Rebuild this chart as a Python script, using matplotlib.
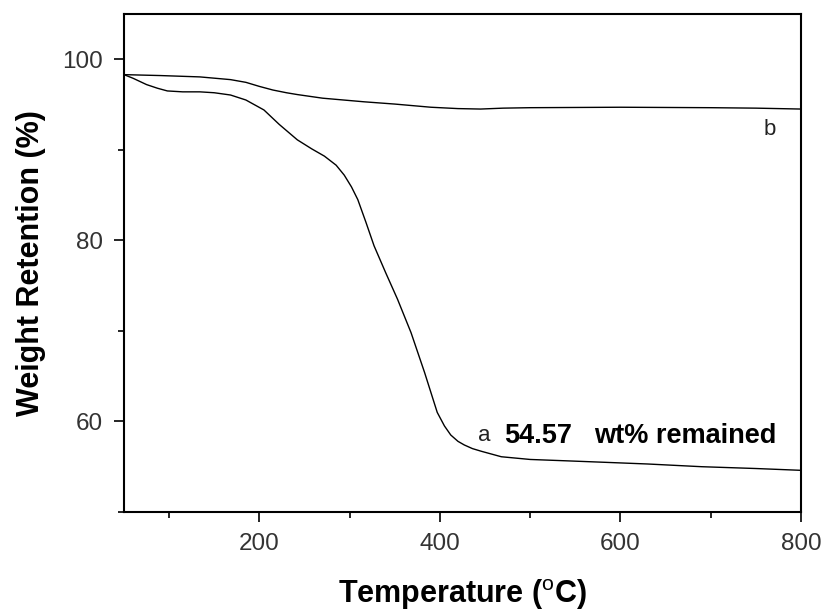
import matplotlib
matplotlib.use("Agg")
import matplotlib.pyplot as plt
from matplotlib.ticker import MultipleLocator

plt.rcParams["font.family"] = ["Liberation Sans", "DejaVu Sans"]
plt.rcParams["mathtext.fontset"] = "custom"
plt.rcParams["mathtext.rm"] = "Liberation Sans"
plt.rcParams["mathtext.bf"] = "Liberation Sans:bold"

# TGA curves (temperature in degC, weight retention in %)
temp_a = [50, 60, 75, 87, 98, 115, 134, 150, 168, 185, 205, 222, 242, 258,
          272, 285, 294, 302, 309, 318, 327, 340, 353, 368, 383, 397, 405, 412,
          420, 427, 436, 446, 468, 500, 540, 579, 630, 690, 750, 800]
weight_a = [98.3, 97.9, 97.2, 96.8, 96.5, 96.4, 96.4, 96.3, 96.05, 95.5, 94.4,
            92.8, 91.1, 90.1, 89.3, 88.3, 87.2, 85.9, 84.5, 82.0, 79.4, 76.4,
            73.5, 69.8, 65.4, 61.0, 59.5, 58.5, 57.8, 57.4, 57.0, 56.7, 56.1,
            55.8, 55.65, 55.5, 55.3, 55.0, 54.8, 54.6]

temp_b = [50, 90, 134, 168, 185, 200, 215, 230, 242, 270, 316, 350, 390, 420,
          445, 470, 500, 600, 700, 750, 800]
weight_b = [98.3, 98.2, 98.05, 97.75, 97.45, 97.0, 96.6, 96.3, 96.1, 95.7, 95.3,
            95.05, 94.7, 94.55, 94.5, 94.6, 94.65, 94.7, 94.65, 94.6, 94.5]

fig = plt.figure(figsize=(8.29, 6.13), dpi=100)
ax = fig.add_axes([0.1496, 0.1648, 0.8166, 0.8124])

ax.plot(temp_a, weight_a, color="black", linewidth=1.0)
ax.plot(temp_b, weight_b, color="black", linewidth=1.0)

ax.set_xlim(50, 800)
ax.set_ylim(50, 105)
ax.xaxis.set_major_locator(MultipleLocator(200))
ax.xaxis.set_minor_locator(MultipleLocator(100))
ax.set_yticks([60, 80, 100])
ax.yaxis.set_minor_locator(MultipleLocator(10))
ax.tick_params(which="both", direction="out", width=1.2, labelsize=17.5,
               labelcolor="#333333", top=False, right=False)
ax.tick_params(which="major", length=7, pad=8)
ax.tick_params(which="minor", length=4)
for spine in ax.spines.values():
    spine.set_linewidth(1.5)

ax.set_xlabel(r"Temperature ($^{\mathrm{o}}$C)", fontsize=22, fontweight="bold",
              labelpad=16)
ax.set_ylabel("Weight Retention (%)", fontsize=22, fontweight="bold", labelpad=12)

ax.text(442, 58.4, "a", fontsize=16, color="#222222", va="center")
ax.text(471, 58.4, "54.57", fontsize=19.5, fontweight="bold", va="center")
ax.text(571, 58.4, "wt% remained", fontsize=19.5, fontweight="bold", va="center")
ax.text(759, 92.2, "b", fontsize=16, color="#222222", va="center")

fig.savefig("out.png", dpi=100)
